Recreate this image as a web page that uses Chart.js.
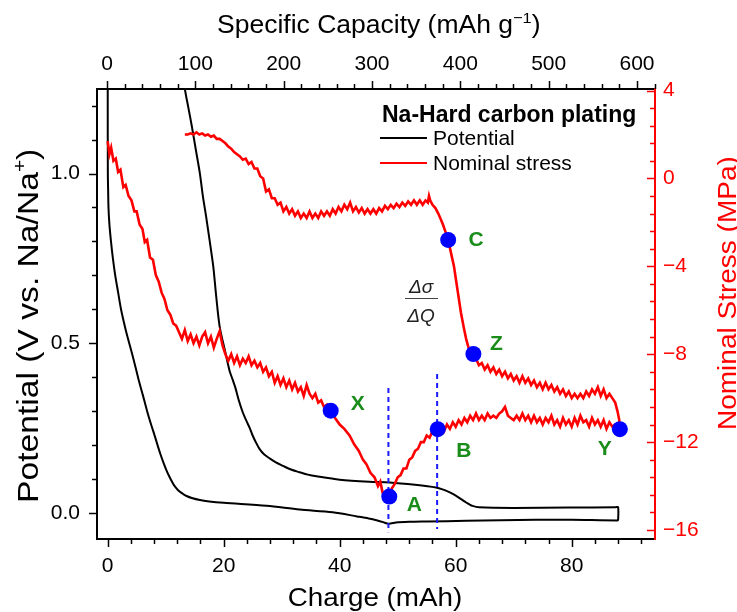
<!DOCTYPE html>
<html>
<head>
<meta charset="utf-8">
<script src="https://cdn.jsdelivr.net/npm/chart.js@4.4.1/dist/chart.umd.min.js"></script>
<style>
  html, body { margin: 0; padding: 0; background: #fff; }
  #wrap { width: 737px; height: 612px; }
</style>
</head>
<body>
<div id="wrap"><canvas id="chart" width="737" height="612"></canvas></div>
<script>
// Na-hard carbon plating: potential and nominal stress vs charge

// axis ticks
const chargeTicks = [0, 20, 40, 60, 80];
const capacityTicks = [0, 100, 200, 300, 400, 500, 600];
const potentialTicks = [0.0, 0.5, 1.0];
const stressTicks = [4, 0, -4, -8, -12, -16];

// potential trace [charge mAh, V] (plating, then stripping back)
const potentialPath = [
  [0, 1.45], [0.01, 1.2], [0.03, 1.0], [0.08, 0.95], [0.14, 0.9], [0.3, 0.85], [0.57, 0.8],
  [0.9, 0.75], [1.3, 0.7], [1.8, 0.65], [2.3, 0.6], [3.1, 0.54], [3.8, 0.495], [4.5, 0.45],
  [5.3, 0.395], [6.1, 0.345], [6.8, 0.3], [7.5, 0.26], [8.1, 0.228], [8.6, 0.2], [9.1, 0.173],
  [9.6, 0.149], [10.1, 0.127], [10.5, 0.112], [11.0, 0.095], [11.4, 0.083], [11.9, 0.072],
  [12.4, 0.063], [13.0, 0.056], [13.6, 0.05], [14.5, 0.044], [15.9, 0.038], [17.5, 0.034],
  [20, 0.03], [27.4, 0.021], [33.1, 0.01], [38.8, 0.002], [43, -0.01], [45, -0.016],
  [46.5, -0.022], [47.5, -0.027], [48.2, -0.031], [48.8, -0.031], [49.7, -0.028], [52, -0.026],
  [55, -0.025], [61.8, -0.023], [73.8, -0.02], [80, -0.02], [87.9, -0.022], [88.0, -0.02],
  [88.0, 0.017], [87.6, 0.017], [79.6, 0.016], [70, 0.015], [64, 0.017], [62.9, 0.021],
  [62.3, 0.026], [61.8, 0.031], [61.2, 0.038], [60.4, 0.047], [59.5, 0.056], [58.7, 0.063],
  [58, 0.068], [56.6, 0.075], [53, 0.083], [48.6, 0.09], [45.1, 0.092], [40, 0.098], [36, 0.108],
  [34.5, 0.113], [33.1, 0.12], [31.6, 0.128], [30.2, 0.139], [29, 0.149], [28, 0.16], [27, 0.172],
  [26.2, 0.188], [25.5, 0.21], [24.9, 0.232], [24.5, 0.25], [23.9, 0.272], [23.3, 0.296],
  [22.6, 0.332], [22, 0.37], [21.5, 0.395], [21.0, 0.42], [20.2, 0.48], [19.3, 0.55],
  [18.7, 0.64], [18.2, 0.727], [17.6, 0.8], [17, 0.87], [16.4, 0.935], [15.9, 1.0], [15.2, 1.07],
  [14.5, 1.14], [13.9, 1.195], [13.3, 1.25], [13.0, 1.3]
];

// nominal stress trace [charge mAh, MPa]
const stressPath = [
  [0, 1.7], [0.3, 1.1], [0.6, 1.4], [1.0, 0.8], [1.4, 0.9], [1.8, 0.3], [2.2, 0.4], [2.7, -0.4],
  [3.1, -0.3], [3.6, -0.8], [4.1, -1.0], [4.6, -1.5], [5.0, -1.5], [5.5, -2.1], [6.0, -2.3],
  [6.4, -2.9], [6.8, -2.8], [7.3, -3.6], [7.8, -3.7], [8.3, -4.4], [8.8, -4.7], [9.3, -5.2],
  [9.8, -5.5], [10.3, -6.0], [10.8, -6.2], [11.3, -6.6], [11.8, -6.7], [12.3, -7.0],
  [12.8, -7.3], [13.3, -6.9], [13.8, -7.4], [14.3, -7.1], [14.8, -7.5], [15.3, -7.2], [15.8, -7.6],
  [16.3, -7.2], [16.8, -7.0], [17.3, -7.5], [17.8, -7.2], [18.3, -7.7], [18.8, -7.3], [19.3, -6.95],
  [19.8, -7.6], [20.3, -8.0], [20.8, -8.3], [21.3, -8.0], [21.8, -8.4], [22.3, -8.1], [22.8, -8.5],
  [23.3, -8.2], [23.8, -8.4], [24.3, -8.1], [24.8, -8.5], [25.3, -8.3], [25.8, -8.6], [26.3, -8.4],
  [26.8, -8.8], [27.3, -8.6], [27.8, -9.0], [28.3, -8.8], [28.8, -9.3], [29.3, -9.0], [29.8, -9.4],
  [30.3, -9.1], [30.8, -9.5], [31.3, -9.2], [31.8, -9.6], [32.3, -9.3], [32.8, -9.7], [33.3, -9.5],
  [33.8, -9.9], [34.3, -9.4], [34.8, -9.8], [35.3, -10.0], [35.8, -9.8], [36.3, -10.2], [36.8, -10.1],
  [37.3, -10.4], [37.8, -10.3], [38.45, -10.57],
  [39.2, -10.9], [40.0, -11.2], [40.8, -11.4], [41.7, -11.7], [42.5, -12.1], [43.3, -12.4],
  [44.0, -12.8], [44.6, -13.0], [45.3, -13.4], [46.0, -13.6], [46.6, -14.0], [47.0, -13.8],
  [47.4, -14.3], [47.9, -14.4], [48.55, -14.48],
  [49.0, -14.1], [49.5, -13.9], [50.0, -13.6], [50.5, -13.5], [51.0, -13.2], [51.5, -13.2],
  [52.0, -12.8], [52.5, -12.7], [53.0, -12.4], [53.5, -12.3], [54.0, -12.0], [54.5, -12.0],
  [55.0, -11.7], [55.5, -11.8], [56.0, -11.5], [56.9, -11.41],
  [57.5, -11.3], [58.0, -11.5], [58.5, -11.2], [59.0, -11.4], [59.5, -11.1], [60.0, -11.3],
  [60.5, -11.0], [61.0, -11.2], [61.5, -10.9], [62.0, -11.1], [62.5, -10.8], [63.0, -11.0],
  [63.5, -10.7], [64.0, -11.0], [64.5, -10.8], [65.0, -11.0], [65.5, -10.7], [66.0, -10.9],
  [66.5, -10.8], [67.0, -10.9], [67.5, -10.7], [68.0, -10.6], [68.5, -10.4], [69.0, -10.8],
  [69.5, -10.9], [70.0, -11.0], [70.5, -10.8], [71.0, -11.0], [71.5, -10.7], [72.0, -11.0],
  [72.5, -10.8], [73.0, -11.1], [73.5, -10.8], [74.0, -11.1], [74.5, -10.9], [75.0, -11.2],
  [75.5, -10.9], [76.0, -11.1], [76.5, -10.8], [77.0, -11.2], [77.5, -11.0], [78.0, -11.3],
  [78.5, -10.9], [79.0, -11.2], [79.5, -11.0], [80.0, -11.3], [80.5, -10.9], [81.0, -11.2],
  [81.5, -10.8], [82.0, -11.1], [82.5, -11.0], [83.0, -11.3], [83.5, -10.9], [84.0, -11.2],
  [84.5, -11.0], [85.0, -11.3], [85.5, -11.0], [86.0, -11.4], [86.5, -11.1], [87.0, -11.3],
  [87.5, -11.2], [88.3, -11.41],
  [88.2, -11.0], [87.9, -10.6], [87.5, -10.2], [87.0, -10.0], [86.5, -9.8], [86.0, -10.0],
  [85.5, -9.6], [85.0, -9.9], [84.5, -9.5], [84.0, -9.8], [83.5, -9.6], [83.0, -9.9], [82.5, -9.7],
  [82.0, -10.0], [81.5, -9.8], [81.0, -10.0], [80.5, -9.8], [80.0, -10.0], [79.5, -9.7], [79.0, -9.9],
  [78.5, -9.6], [78.0, -9.8], [77.5, -9.5], [77.0, -9.7], [76.5, -9.4], [76.0, -9.6], [75.5, -9.3],
  [75.0, -9.6], [74.5, -9.3], [74.0, -9.5], [73.5, -9.2], [73.0, -9.4], [72.5, -9.1], [72.0, -9.3],
  [71.5, -9.0], [71.0, -9.3], [70.5, -9.0], [70.0, -9.2], [69.5, -8.9], [69.0, -9.1], [68.5, -8.8],
  [68.0, -9.0], [67.5, -8.7], [67.0, -8.9], [66.5, -8.6], [66.0, -8.8], [65.5, -8.5], [65.0, -8.7],
  [64.5, -8.4], [64.0, -8.5], [63.5, -8.2], [63.05, -7.99],
  [62.5, -7.9], [62.1, -7.6], [61.8, -7.3], [61.4, -6.8], [60.9, -6.1], [60.5, -5.4], [60.1, -4.7],
  [59.7, -4.0], [59.2, -3.4], [58.7, -2.8],
  [58.2, -2.4], [57.8, -2.1], [57.5, -1.9], [57.0, -1.6], [56.5, -1.35], [56.0, -1.2], [55.6, -1.0],
  [55.4, -0.8], [55.2, -1.1], [54.8, -1.0], [54.3, -1.2], [53.8, -1.0], [53.3, -1.2], [52.8, -1.0],
  [52.3, -1.2], [51.8, -1.05], [51.3, -1.25], [50.8, -1.1], [50.3, -1.3], [49.8, -1.15], [49.3, -1.35],
  [48.8, -1.2], [48.3, -1.4], [47.8, -1.25], [47.3, -1.5], [46.8, -1.35], [46.3, -1.6], [45.8, -1.4],
  [45.3, -1.6], [44.8, -1.4], [44.3, -1.6], [43.8, -1.35], [43.3, -1.55], [42.8, -1.3], [42.3, -1.5],
  [41.8, -1.1], [41.3, -1.4], [40.8, -1.2], [40.3, -1.5], [39.8, -1.3], [39.3, -1.6], [38.8, -1.4],
  [38.3, -1.7], [37.8, -1.5], [37.3, -1.7], [36.8, -1.5], [36.3, -1.8], [35.8, -1.6], [35.3, -1.8],
  [34.8, -1.5], [34.3, -1.8], [33.8, -1.6], [33.3, -1.8], [32.8, -1.5], [32.3, -1.7], [31.8, -1.4],
  [31.3, -1.6], [30.8, -1.3], [30.3, -1.5], [29.8, -1.1], [29.3, -1.2], [28.8, -0.9], [28.3, -0.9],
  [27.8, -0.5], [27.3, -0.6], [26.8, 0.0], [26.3, 0.1], [25.8, 0.45], [25.3, 0.45], [24.8, 0.75],
  [24.3, 0.65], [23.8, 0.9], [23.3, 0.85], [22.8, 1.0], [22.3, 1.1], [21.8, 1.2], [21.3, 1.35],
  [20.8, 1.45], [20.3, 1.6], [19.8, 1.7], [19.3, 1.8], [18.8, 1.8], [18.3, 1.95], [17.8, 1.9],
  [17.3, 2.0], [16.8, 1.95], [16.3, 2.05], [15.8, 2.0], [15.3, 2.1], [14.8, 2.0], [14.3, 2.05],
  [13.8, 2.0], [13.3, 2.0]
];

// labelled points on the stress trace
const markerNames = ['X', 'A', 'B', 'Y', 'Z', 'C'];
const markerCharge = [38.45, 48.55, 56.9, 88.3, 63.05, 58.7];
const markerStress = [-10.57, -14.48, -11.41, -11.41, -7.99, -2.8];

// dashed guide lines at A and B
const guideCharge = [48.4, 56.8];
const guideTop = [-9.54, -8.9];
const guideBottom = [-16.1, -15.95];

const FONT = '"Liberation Sans", Arial, Helvetica, sans-serif';
const GREEN = '#1a8c1a';

// label offsets (px) from each marker
const labelOffset = { X: [27, -7], A: [25, 8], B: [26, 21], Y: [-15, 19], Z: [23, -11], C: [28, -1] };

function drawRich(ctx, parts, o) {
  const size = o.size, stretch = o.stretch || 1, weight = o.weight || '';
  const fontFor = p => `${weight} ${p.sup ? size * 0.62 : size}px ${FONT}`;
  ctx.save();
  ctx.translate(o.x, o.y);
  ctx.rotate(o.angle || 0);
  ctx.scale(stretch, 1);
  ctx.fillStyle = o.color || '#000';
  ctx.textAlign = 'left';
  ctx.textBaseline = 'alphabetic';
  const widths = parts.map(p => { ctx.font = fontFor(p); return ctx.measureText(p.t).width; });
  const total = widths.reduce((a, b) => a + b, 0);
  let cx = o.align === 'center' ? -total / 2 : 0;
  parts.forEach((p, i) => {
    ctx.font = fontFor(p);
    ctx.fillText(p.t, cx, p.sup ? -size * 0.4 : 0);
    cx += widths[i];
  });
  ctx.restore();
}

// major + minor tick marks on the frame
function drawTicks(ctx, scale, step, ratio, dir, color) {
  const a = scale.chart.chartArea;
  const lo = Math.ceil(scale.min / step - 1e-6), hi = Math.floor(scale.max / step - 0.02);
  ctx.strokeStyle = color;
  ctx.lineWidth = 1.5;
  for (let i = lo; i <= hi; i++) {
    const len = i % ratio === 0 ? 8 : 5;
    const p = Math.round(scale.getPixelForValue(i * step)) + 0.5;
    ctx.beginPath();
    if (dir === 'left') { ctx.moveTo(a.left, p); ctx.lineTo(a.left - len, p); }
    if (dir === 'rightIn') { ctx.moveTo(a.right, p); ctx.lineTo(a.right - len, p); }
    if (dir === 'down') { ctx.moveTo(p, a.bottom); ctx.lineTo(p, a.bottom + len); }
    if (dir === 'up') { ctx.moveTo(p, a.top); ctx.lineTo(p, a.top - len); }
    ctx.stroke();
  }
}

const decorations = {
  id: 'decorations',
  afterDraw(chart) {
    const ctx = chart.ctx, s = chart.scales;
    ctx.save();
    drawTicks(ctx, s.y, 0.1, 5, 'left', '#000');
    drawTicks(ctx, s.x, 4, 5, 'down', '#000');
    drawTicks(ctx, s.x2, 20, 5, 'up', '#000');
    drawTicks(ctx, s.y2, 0.8, 5, 'rightIn', '#ff0000');

    // axis titles
    drawRich(ctx, [{ t: 'Charge (mAh)' }], { x: 375, y: 606, size: 25.5, stretch: 1.09, align: 'center' });
    drawRich(ctx, [{ t: 'Specific Capacity (mAh g' }, { t: '\u22121', sup: true }, { t: ')' }],
      { x: 217, y: 33, size: 25, stretch: 1.06 });
    drawRich(ctx, [{ t: 'Potential (V vs. Na/Na' }, { t: '+', sup: true }, { t: ')' }],
      { x: 38, y: 503, angle: -Math.PI / 2, size: 29, stretch: 1.16 });
    drawRich(ctx, [{ t: 'Nominal Stress (MPa)' }],
      { x: 736, y: 430, angle: -Math.PI / 2, size: 25, stretch: 1.12, color: '#ff0000' });

    // legend
    drawRich(ctx, [{ t: 'Na-Hard carbon plating' }], { x: 382, y: 122, size: 23, weight: 'bold' });
    [['Potential', '#000', 138, 145], ['Nominal stress', '#ff0000', 163, 170]].forEach(([label, col, ly, ty]) => {
      ctx.strokeStyle = col;
      ctx.lineWidth = 2;
      ctx.beginPath(); ctx.moveTo(380, ly); ctx.lineTo(427, ly); ctx.stroke();
      drawRich(ctx, [{ t: label }], { x: 433, y: ty, size: 21 });
    });

    // d(sigma)/dQ annotation
    ctx.fillStyle = '#222';
    ctx.font = `italic 19px ${FONT}`;
    ctx.textAlign = 'center';
    ctx.textBaseline = 'alphabetic';
    ctx.fillText('\u0394\u03c3', 421, 293);
    ctx.fillText('\u0394Q', 421, 322);
    ctx.strokeStyle = '#444';
    ctx.lineWidth = 1;
    ctx.beginPath(); ctx.moveTo(405, 298.5); ctx.lineTo(438, 298.5); ctx.stroke();

    // marker letters
    ctx.fillStyle = GREEN;
    ctx.font = `bold 21px ${FONT}`;
    ctx.textBaseline = 'middle';
    markerNames.forEach((n, i) => {
      const px = s.x.getPixelForValue(markerCharge[i]);
      const py = s.y2.getPixelForValue(markerStress[i]);
      const off = labelOffset[n];
      ctx.fillText(n, px + off[0], py + off[1] + 1);
    });
    ctx.restore();
  }
};

const tickFont = { family: FONT, size: 21 };
const plainGrid = { display: false, drawTicks: false };

const datasets = [
  {
    label: 'Potential',
    data: potentialPath.map(([c, v]) => ({ x: c, y: v })),
    xAxisID: 'x', yAxisID: 'y', showLine: true, borderColor: '#000', borderWidth: 2,
    pointRadius: 0, tension: 0.3, order: 3
  },
  {
    label: 'Nominal stress',
    data: stressPath.map(([c, v]) => ({ x: c, y: v })),
    xAxisID: 'x', yAxisID: 'y2', showLine: true, borderColor: '#ff0000', borderWidth: 2.6,
    pointRadius: 0, tension: 0, order: 2
  },
  ...guideCharge.map((c, i) => ({
    label: 'guide' + i,
    data: [{ x: c, y: guideTop[i] }, { x: c, y: guideBottom[i] }],
    xAxisID: 'x', yAxisID: 'y2', showLine: true, borderColor: '#1a1aff', borderWidth: 2,
    borderDash: [5, 4], pointRadius: 0, order: 1
  })),
  {
    label: 'points',
    data: markerCharge.map((c, i) => ({ x: c, y: markerStress[i] })),
    xAxisID: 'x', yAxisID: 'y2', showLine: false, pointRadius: 8,
    pointBackgroundColor: '#0000ff', pointBorderColor: '#0000ff', pointBorderWidth: 0, order: 0
  }
];

new Chart(document.getElementById('chart'), {
  type: 'scatter',
  data: { datasets },
  options: {
    responsive: false,
    animation: false,
    devicePixelRatio: 1,
    events: [],
    layout: { padding: 0 },
    plugins: { legend: { display: false }, tooltip: { enabled: false } },
    scales: {
      x: {
        type: 'linear', position: 'bottom', min: -1.84, max: 94.36,
        grid: plainGrid, border: { display: true, color: '#000', width: 2 },
        ticks: { color: '#000', font: tickFont, padding: 15, maxRotation: 0, autoSkip: false },
        afterBuildTicks: s => { s.ticks = chargeTicks.map(v => ({ value: v })); },
        afterFit: s => { s.height = 73; }
      },
      x2: {
        type: 'linear', position: 'top', min: -11.3, max: 620.4,
        grid: plainGrid, border: { display: true, color: '#000', width: 2 },
        ticks: { color: '#000', font: tickFont, padding: 12, maxRotation: 0, autoSkip: false },
        afterBuildTicks: s => { s.ticks = capacityTicks.map(v => ({ value: v })); },
        afterFit: s => { s.height = 89; }
      },
      y: {
        type: 'linear', position: 'left', min: -0.0766, max: 1.249,
        grid: plainGrid, border: { display: true, color: '#000', width: 2 },
        ticks: { color: '#000', font: tickFont, padding: 17, callback: v => v.toFixed(1) },
        afterBuildTicks: s => { s.ticks = potentialTicks.map(v => ({ value: v })); },
        afterFit: s => { s.width = 97; }
      },
      y2: {
        type: 'linear', position: 'right', min: -16.41, max: 4.07,
        grid: plainGrid, border: { display: true, color: '#ff0000', width: 2 },
        ticks: { color: '#ff0000', font: tickFont, padding: 8, callback: v => (v < 0 ? '\u2212' + Math.abs(v) : String(v)) },
        afterBuildTicks: s => { s.ticks = stressTicks.map(v => ({ value: v })); },
        afterFit: s => { s.width = 82; }
      }
    }
  },
  plugins: [decorations]
});
</script>
</body>
</html>
